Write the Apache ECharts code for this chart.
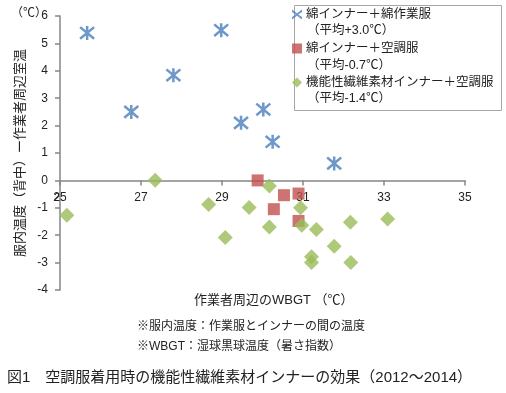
<!DOCTYPE html>
<html><head><meta charset="utf-8">
<script src="https://cdn.jsdelivr.net/npm/echarts@6/dist/echarts.min.js"></script>
<style>html,body{margin:0;padding:0;background:#fff}#c{width:506px;height:393px}</style>
</head><body><div id="c"></div>
<script>
const seriesNames = ['綿インナー＋綿作業服', '綿インナー＋空調服', '機能性繊維素材インナー＋空調服'];
const seriesAvg = ['（平均+3.0℃）', '（平均-0.7℃）', '（平均-1.4℃）'];
const cottonWork = [[25.67,5.38],[26.76,2.50],[27.80,3.84],[28.98,5.48],[29.47,2.10],[30.02,2.59],[30.25,1.41],[31.77,0.62]];
const cottonAC = [[29.88,0.0],[30.53,-0.54],[30.89,-0.48],[30.28,-1.05],[30.89,-1.48]];
const functionalAC = [[25.17,-1.27],[27.35,0.01],[28.67,-0.88],[29.67,-0.99],[30.17,-0.20],[29.08,-2.08],[30.17,-1.70],[30.94,-1.00],[30.97,-1.64],[31.33,-1.79],[32.17,-1.53],[33.09,-1.41],[31.77,-2.40],[31.21,-2.79],[31.21,-3.00],[32.18,-3.00]];
const xMin = 25, xMax = 35, xStep = 2;
const yMin = -4, yMax = 6, yStep = 1;
const yTitle = '服内温度（背中）ー作業者周辺室温';
const yUnit = '（℃）';
const xTitle = '作業者周辺のWBGT （℃）';
const note1 = '※服内温度：作業服とインナーの間の温度';
const note2 = '※WBGT：湿球黒球温度（暑さ指数）';
const caption = '図1　空調服着用時の機能性繊維素材インナーの効果（2012～2014）';

const FONT = "'Liberation Sans','Noto Sans CJK JP',sans-serif";
const axisColor = '#868686';
const gridTop = 16, gridBottom = 103, H = 393;
const plotH = H - gridTop - gridBottom;
const zeroOffset = -plotH * (0 - yMin) / (yMax - yMin);
const chart = echarts.init(document.getElementById('c'), null, {renderer:'canvas'});
chart.setOption({
  animation: false,
  textStyle: {fontFamily: FONT},
  grid: {left: 60, right: 41, top: gridTop, bottom: gridBottom},
  xAxis: {
    type: 'value', min: xMin, max: xMax, interval: xStep,
    position: 'bottom', offset: zeroOffset,
    axisLine: {onZero: false, lineStyle: {color: axisColor, width: 1.5}},
    axisTick: {show: true, inside: false, length: 5, lineStyle: {color: axisColor, width: 1.5}},
    axisLabel: {margin: 11, color: '#222', fontSize: 12, fontFamily: FONT},
    splitLine: {show: false}
  },
  yAxis: {
    type: 'value', min: yMin, max: yMax, interval: yStep,
    name: yTitle, nameLocation: 'middle', nameRotate: 90, nameGap: 29,
    nameTextStyle: {fontSize: 13, color: '#222', fontFamily: FONT},
    axisLine: {show: true, onZero: false, lineStyle: {color: axisColor, width: 1.5}},
    axisTick: {show: true, length: 5, lineStyle: {color: axisColor, width: 1.5}},
    axisLabel: {margin: 12, color: '#222', fontSize: 12, fontFamily: FONT},
    splitLine: {show: false}
  },
  legend: {
    orient: 'vertical', left: 292, top: 4, padding: [2, 4, 2, 0],
    itemWidth: 10, itemHeight: 10, itemGap: 17,
    textStyle: {fontSize: 12.5, color: '#222', fontFamily: FONT, lineHeight: 17, padding: [0,0,0,-1]},
    data: [
      {name: seriesNames[0], icon: 'path://M0,0L4,3L8,0L8,2L5,4L8,6L8,8L4,5L0,8L0,6L3,4L0,2Z', itemStyle: {borderWidth: 0, color: '#4A7EBB'}},
      {name: seriesNames[1], icon: 'rect'},
      {name: seriesNames[2], icon: 'diamond'}
    ]
  },
  graphic: [
    {type: 'rect', left: 292, top: 3, shape: {width: 207, height: 105}, style: {fill: 'none', stroke: '#A6A6A6', lineWidth: 1}, silent: true},
    {type: 'text', left: 307, top: 24, style: {text: seriesAvg[0], font: "12.5px " + FONT, fill: '#222'}},
    {type: 'text', left: 307, top: 59, style: {text: seriesAvg[1], font: "12.5px " + FONT, fill: '#222'}},
    {type: 'text', left: 307, top: 92, style: {text: seriesAvg[2], font: "12.5px " + FONT, fill: '#222'}},
    {type: 'text', left: 11, top: 8, style: {text: yUnit, font: "12px " + FONT, fill: '#222'}},
    {type: 'text', left: 54, top: 192, style: {text: '2', font: "11px " + FONT, fill: '#222'}},
    {type: 'text', left: 194, top: 294, style: {text: xTitle, font: "13px " + FONT, fill: '#222'}},
    {type: 'text', left: 137, top: 321, style: {text: note1, font: "12px " + FONT, fill: '#222'}},
    {type: 'text', left: 137, top: 341, style: {text: note2, font: "12px " + FONT, fill: '#222'}},
    {type: 'text', left: 7, top: 370, style: {text: caption, font: "15px " + FONT, fill: '#222'}}
  ],
  series: [
    {name: seriesNames[0], type: 'scatter', data: cottonWork,
     symbol: 'path://M0,0L10,10M10,0L0,10M5,-1L5,11', symbolSize: 14,
     itemStyle: {color: '#4A7EBB', borderColor: '#4A7EBB', borderWidth: 2.5}},
    {name: seriesNames[1], type: 'scatter', data: cottonAC,
     symbol: 'rect', symbolSize: 12, itemStyle: {color: '#C0504D'}},
    {name: seriesNames[2], type: 'scatter', data: functionalAC,
     symbol: 'diamond', symbolSize: 15, itemStyle: {color: '#9BBB59'}}
  ]
});
</script></body></html>
